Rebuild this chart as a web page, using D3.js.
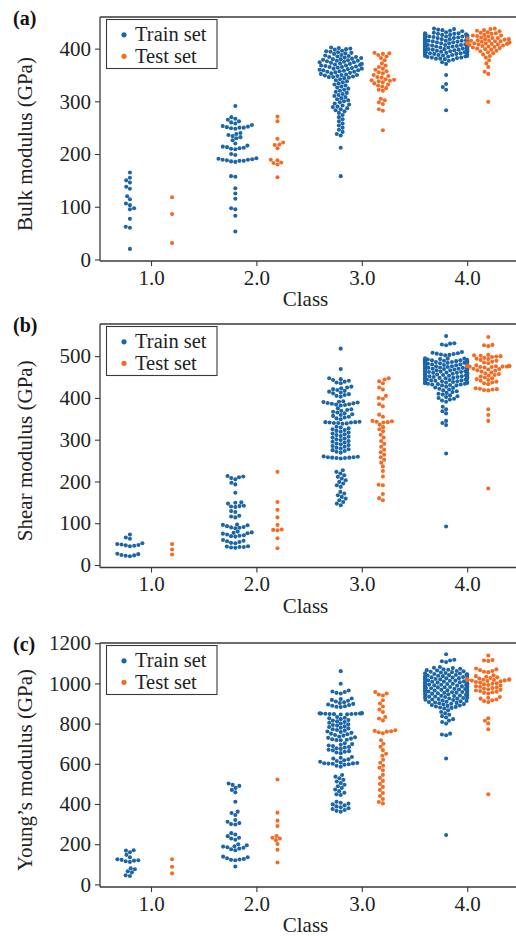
<!DOCTYPE html>
<html><head><meta charset="utf-8">
<script src="https://cdn.jsdelivr.net/npm/d3@7/dist/d3.min.js"></script>
<style>body{margin:0;background:#fff}svg{display:block}</style>
</head><body>
<svg id="chart" width="516" height="936"></svg>
<script>
const classes = ["1.0","2.0","3.0","4.0"];
const seriesNames = ["Train set","Test set"];
const panelLabels = ["(a)","(b)","(c)"];
const yTitles = ["Bulk modulus (GPa)","Shear modulus (GPa)","Young\u2019s modulus (GPa)"];
const yTicksBulk = [0,100,200,300,400];
const yTicksShear = [0,100,200,300,400,500];
const yTicksYoung = [0,200,400,600,800,1000,1200];

const bulkTrain = [
 [165,155,150,146,138,134,120,114,106,103,97,95,77,62,60,20],
 [291,270,267,265,262,260,258,255,253,252,251,250,250,249,248,240,238,236,234,232,230,226,220,216,214,213,212,211,210,209,200,198,192,191,190,189,189,188,187,187,186,185,158,157,135,125,115,97,95,83,53],
 [402,401,400,399,398,396,395,394,393,392,391,390,388,387,
  386,385,384,384,383,382,381,380,380,379,378,377,377,376,375,374,374,373,372,371,371,370,369,368,368,367,366,365,365,364,363,362,362,361,360,359,359,358,357,356,356,355,354,353,352,351,350,350,349,348,347,346,346,345,344,
  342,340,338,336,334,332,330,328,326,324,322,320,318,316,314,312,310,308,306,304,302,300,298,296,294,292,290,289,287,285,283,281,
  278,274,270,266,262,258,254,250,246,242,238,235,212,158],
 [283,322,327,333,350,371,374,377,
  379,380,381,381,382,383,383,384,385,385,386,386,387,388,388,389,389,390,390,391,391,392,392,392,393,393,394,394,394,395,395,396,396,396,397,397,398,398,398,399,399,399,400,400,400,401,401,401,402,402,402,403,403,403,404,404,404,405,405,405,406,406,406,407,407,407,408,408,408,409,409,409,410,410,410,411,411,411,412,412,412,413,413,413,414,414,414,415,415,415,416,416,416,417,417,417,418,418,418,419,419,419,420,420,420,421,421,421,422,422,422,423,423,423,424,424,424,425,425,425,426,426,427,427,428,428,429,429,430,431,
  433,434,435,436,437,438]
];
const bulkTest = [
 [118,86,31],
 [271,262,229,222,218,217,211,189,188,184,183,180,156],
 [392,391,390,388,385,382,378,372,368,365,362,360,357,355,353,350,348,346,345,342,341,340,339,338,336,334,332,330,328,325,322,320,305,302,298,295,285,282,245],
 [438,437,435,434,433,431,430,429,428,426,425,425,424,423,421,420,420,419,418,418,417,416,415,415,414,414,413,412,411,411,410,410,410,409,409,408,408,407,406,405,404,403,402,401,400,399,398,396,395,393,391,389,386,383,378,372,365,356,352,299]
];

const shearTrain = [
 [73,66,63,52,50,49,48,47,46,45,27,26,24,23,22,21],
 [213,212,210,208,205,197,193,173,150,149,147,142,141,140,139,129,127,118,116,114,97,96,95,93,91,90,89,88,80,78,77,76,75,73,71,70,69,68,60,58,57,55,53,52,45,44,43,43,42,41],
 [518,469,
  447,445,443,441,439,437,435,
  427,425,423,421,419,417,415,413,411,409,407,405,403,
  392,391,390,389,388,387,386,385,384,383,382,
  375,373,371,369,367,365,363,361,359,357,355,353,351,349,
  343,342,342,341,341,340,340,339,338,
  331,329,327,325,323,321,319,317,315,313,311,309,307,305,303,301,299,297,295,293,291,289,287,285,283,281,279,277,275,273,271,269,
  260,259,258,258,257,257,256,256,255,
  227,223,219,215,211,207,203,199,195,191,187,
  175,171,167,163,159,155,151,147,143],
 [92,267,345,340,335,363,368,373,379,
  391,394,396,398,400,402,404,406,408,410,412,414,416,418,420,422,424,425,427,
  430,431,432,433,434,435,436,437,438,439,440,441,442,443,444,445,446,447,448,449,450,450,451,452,453,454,455,455,456,457,458,459,460,460,461,462,463,464,465,465,466,467,468,469,470,470,471,472,473,474,475,475,476,477,478,479,480,480,481,482,483,484,485,485,486,487,488,489,490,490,491,492,493,494,495,
  430,432,434,436,438,440,442,444,446,448,450,452,454,456,458,460,462,464,466,468,470,472,474,476,478,480,482,484,486,488,490,492,494,
  502,503,504,505,506,507,508,510,
  526,528,530,531,548]
];
const shearTest = [
 [50,37,25],
 [223,151,132,114,96,85,84,83,64,40],
 [447,444,440,435,425,420,405,400,398,385,380,360,355,345,344,343,342,341,336,330,325,320,312,305,297,290,283,276,270,264,258,252,245,236,225,212,192,191,170,160,155],
 [546,527,526,524,503,502,501,500,499,498,496,494,493,491,489,487,485,483,478,477,477,476,476,476,475,475,475,474,474,473,470,469,468,466,465,463,461,459,457,455,453,451,449,447,445,443,441,439,437,435,433,423,422,421,420,419,418,373,359,345,183]
];

const youngTrain = [
 [170,168,160,147,135,125,122,120,118,115,112,80,75,65,60,45,42],
 [502,495,490,480,470,458,411,362,355,345,320,312,305,300,298,255,248,240,232,228,222,200,195,190,188,185,182,178,175,170,138,135,130,126,124,122,120,89],
 [1061,998,
  965,960,957,953,950,
  925,922,918,914,910,906,902,898,895,892,889,886,884,882,
  852,851,851,850,850,849,849,848,848,847,846,845,
  833,829,826,822,818,815,811,808,804,800,797,793,790,786,783,779,776,772,768,765,761,758,754,750,747,743,740,736,732,729,725,722,720,718,717,
  702,698,695,691,688,684,681,677,674,670,667,663,660,656,653,
  634,630,626,622,618,614,610,606,604,603,602,601,600,598,595,590,585,
  544,536,528,520,512,504,496,488,480,472,464,456,448,445,
  411,406,402,398,393,388,384,379,375,370,366,362],
 [246,626,742,746,750,800,808,815,822,830,837,844,851,858,866,
  875,878,880,883,885,888,890,892,895,897,899,901,903,905,907,909,911,913,915,917,919,920,922,924,925,927,929,930,932,934,935,937,938,940,941,943,944,946,947,949,950,951,953,954,956,957,958,960,961,962,964,965,966,968,969,970,972,973,974,976,977,978,980,981,982,984,985,986,988,989,990,992,993,994,996,997,998,1000,1001,1002,1004,1005,1006,1008,1009,1010,1012,1013,1014,1016,1017,1018,1020,1021,1022,1024,1025,1026,1028,1029,1030,1032,1033,1035,1036,1038,1039,1041,1042,1044,1045,1047,1049,1050,1052,1054,1056,1058,1060,1062,1064,1066,1068,1070,1073,1076,1078,1081,
  1106,1110,1114,1118,1145]
];
const youngTest = [
 [125,88,55],
 [522,357,317,290,241,232,228,220,201,172,109],
 [957,950,945,940,916,900,885,870,858,833,825,816,767,764,762,760,757,752,717,700,685,668,650,640,620,605,590,580,568,545,530,515,500,485,470,455,440,425,410,403],
 [1139,1116,1114,1112,1074,1070,1066,1062,1058,1056,1040,1036,1033,1030,1027,1024,1021,1020,1019,1018,1018,1017,1016,1015,1014,1012,1010,1007,1004,1001,998,995,992,989,986,983,980,977,974,971,968,965,962,959,956,953,950,932,928,924,920,916,912,907,826,814,801,772,448]
];

const colors = ["#1c66a8", "#f26c24"];
const FONT = "'Liberation Serif','Times New Roman',serif";
const R = 2.05;

const panels = [
 {train: bulkTrain, test: bulkTest, top: 17, bottom: 261, domain: [-3, 460], ticks: yTicksBulk},
 {train: shearTrain, test: shearTest, top: 324, bottom: 567.5, domain: [-6, 577], ticks: yTicksShear},
 {train: youngTrain, test: youngTest, top: 643, bottom: 887, domain: [-13, 1201], ticks: yTicksYoung}
];

const svg = d3.select("#chart");
const LEFT = 100, RIGHT = 522;
const x = d3.scaleLinear().domain([0, 3]).range([151, 467.2]);
const dodge = 0.2, halfW = 0.2;

function beeswarm(vals, cx, y, r, half) {
  const pts = vals.map(v => ({v, y: y(v)})).sort((a, b) => a.v - b.v);
  const placed = [];
  for (const p of pts) {
    const nb = [];
    for (let k = placed.length - 1; k >= 0; k--) {
      if (Math.abs(p.y - placed[k].y) < 2 * r) nb.push(placed[k]); else break;
    }
    const cands = [cx];
    let leftFirst = true;
    for (const q of nb) {
      const dy = p.y - q.y;
      const dx = Math.sqrt(Math.max(4 * r * r - dy * dy, 0)) * 1.05;
      if (leftFirst) cands.push(q.x - dx, q.x + dx); else cands.push(q.x + dx, q.x - dx);
      leftFirst = !leftFirst;
    }
    const order = cands.map((c, i) => ({c, i})).sort((a, b) => (Math.abs(a.c - cx) - Math.abs(b.c - cx)) || (a.i - b.i));
    let chosen = order[0].c;
    for (const o of order) {
      if (nb.every(q => (q.x - o.c) ** 2 + (q.y - p.y) ** 2 >= 4 * r * r - 1e-6)) { chosen = o.c; break; }
    }
    p.x = chosen;
    placed.push(p);
  }
  for (const p of placed) p.x = Math.max(cx - half, Math.min(cx + half, p.x));
  return placed;
}

panels.forEach((P, pi) => {
  const y = d3.scaleLinear().domain(P.domain).range([P.bottom, P.top]);
  const g = svg.append("g");
  const unit = x(1) - x(0);

  [P.train, P.test].forEach((sets, si) => {
    sets.forEach((vals, ci) => {
      const cx = x(ci + (si === 0 ? -dodge : dodge));
      const pts = beeswarm(vals, cx, y, R, halfW * unit);
      g.append("g").selectAll("circle").data(pts).join("circle")
        .attr("cx", d => d.x).attr("cy", d => d.y).attr("r", R)
        .attr("fill", colors[si]);
    });
  });

  g.append("line").attr("x1", LEFT).attr("x2", LEFT).attr("y1", P.top).attr("y2", P.bottom)
    .attr("stroke", "#3a3a3a").attr("stroke-width", 1.3);
  g.append("line").attr("x1", LEFT).attr("x2", RIGHT).attr("y1", P.top).attr("y2", P.top)
    .attr("stroke", "#3a3a3a").attr("stroke-width", 1.3);
  g.append("line").attr("x1", LEFT).attr("x2", RIGHT).attr("y1", P.bottom).attr("y2", P.bottom)
    .attr("stroke", "#3a3a3a").attr("stroke-width", 1.3);

  const ya = g.append("g").attr("transform", `translate(${LEFT},0)`)
    .call(d3.axisLeft(y).tickValues(P.ticks).tickSize(5).tickPadding(4).tickFormat(d3.format("d")));
  ya.select(".domain").remove();
  ya.selectAll("line").attr("stroke", "#3a3a3a").attr("stroke-width", 1.1);
  ya.selectAll("text").attr("font-family", FONT).attr("font-size", 21).attr("fill", "#222");

  const xa = g.append("g").attr("transform", `translate(0,${P.bottom})`)
    .call(d3.axisBottom(x).tickValues([0, 1, 2, 3]).tickSize(5).tickPadding(4).tickFormat(i => classes[i]));
  xa.select(".domain").remove();
  xa.selectAll("line").attr("stroke", "#3a3a3a").attr("stroke-width", 1.1);
  xa.selectAll("text").attr("font-family", FONT).attr("font-size", 21).attr("fill", "#222");

  g.append("text").attr("x", 305.5).attr("y", P.bottom + 45).attr("text-anchor", "middle")
    .attr("font-family", FONT).attr("font-size", 21).attr("fill", "#222").text("Class");

  g.append("text").attr("transform", `translate(31.5,${(P.top + P.bottom) / 2 + 5}) rotate(-90)`)
    .attr("text-anchor", "middle").attr("font-family", FONT).attr("font-size", 21).attr("fill", "#222")
    .text(yTitles[pi]);

  g.append("text").attr("x", 13).attr("y", P.top + 7.5).attr("font-family", FONT).attr("font-size", 20)
    .attr("font-weight", "bold").attr("fill", "#111").text(panelLabels[pi]);

  const lg = g.append("g").attr("transform", `translate(106.5,${P.top + 2.5})`);
  lg.append("rect").attr("width", 110.5).attr("height", 49).attr("fill", "#fff")
    .attr("stroke", "#3a3a3a").attr("stroke-width", 1.1);
  seriesNames.forEach((n, i) => {
    lg.append("circle").attr("cx", 17.5).attr("cy", 15.3 + i * 21.5).attr("r", 2.6).attr("fill", colors[i]);
    lg.append("text").attr("x", 28.5).attr("y", 15.3 + i * 21.5 + 6.3).attr("font-family", FONT)
      .attr("font-size", 20.5).attr("fill", "#222").text(n);
  });
});
</script>
</body></html>
